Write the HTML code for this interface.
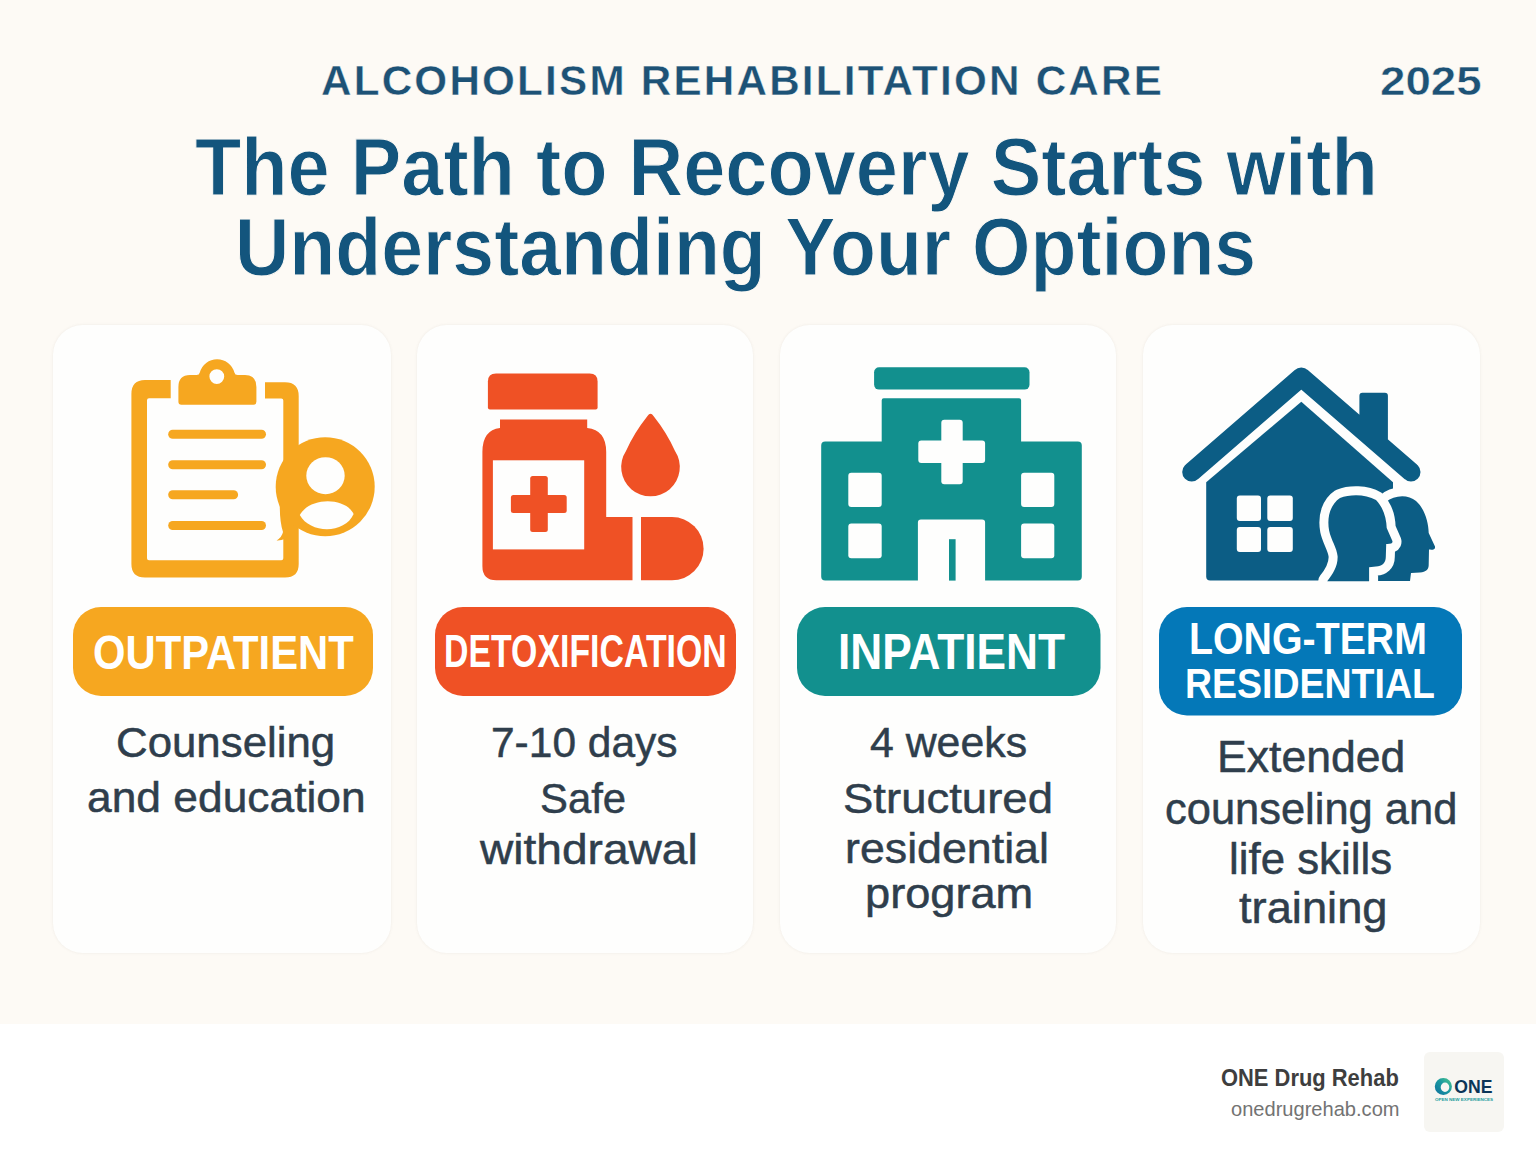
<!DOCTYPE html>
<html>
<head>
<meta charset="utf-8">
<title>Alcoholism Rehabilitation Care</title>
<style>
html,body{margin:0;padding:0;}
body{width:1536px;height:1154px;position:relative;overflow:hidden;background:#fdfaf5;font-family:"Liberation Sans",sans-serif;}
.card{position:absolute;top:325px;height:628px;background:#fefefd;border-radius:30px;box-shadow:0 0 3px rgba(110,100,90,0.10);}
.foot{position:absolute;left:0;top:1024px;width:1536px;height:130px;background:#ffffff;}
.logo{position:absolute;left:1424px;top:1052px;width:80px;height:80px;background:#f7f6f2;border-radius:6px;}
svg.ic{position:absolute;left:0;top:0;}
</style>
</head>
<body>
<div class="card" style="left:53px;width:338px"></div>
<div class="card" style="left:417px;width:336px"></div>
<div class="card" style="left:780px;width:336px"></div>
<div class="card" style="left:1143px;width:337px"></div>
<div class="foot"></div>
<div class="logo"></div>
<svg class="ic" width="1536" height="1154" viewBox="0 0 1536 1154">
<!-- pills -->
<rect x="73" y="607" width="300" height="89" rx="28" fill="#f6a720"/>
<rect x="435" y="607" width="301" height="89" rx="28" fill="#ef5125"/>
<rect x="797" y="607" width="303.5" height="89" rx="28" fill="#12908e"/>
<rect x="1159" y="607" width="303" height="108.5" rx="28" fill="#0478b8"/>

<!-- icon 1: clipboard -->
<g fill="#f6a720">
  <path fill-rule="evenodd" d="M145,380 L170.7,380 L170.7,398.3 L149,398.3 Q147,398.3 147,400.3 L147,558.2 Q147,560.2 149,560.2 L281.3,560.2 Q283.3,560.2 283.3,558.2 L283.3,400.6 Q283.3,398.6 281.3,398.6 L265,398.6 L265,382.2 L285,382.2 Q298.7,382.2 298.7,396 L298.7,564 Q298.7,577.5 285,577.5 L145,577.5 Q131.4,577.5 131.4,564 L131.4,394 Q131.4,380 145,380 Z"/>
  <!-- clip -->
  <path fill-rule="evenodd" d="M190,375 L196.5,375 Q199.3,375 199.8,372.5 A17.9,17.9 0 0 1 234.4,372.5 Q234.9,375 237.7,375 L245,375 Q256.4,375 256.4,387 L256.4,401.7 Q256.4,404.7 253.4,404.7 L181.4,404.7 Q178.4,404.7 178.4,401.7 L178.4,387 Q178.4,375 190,375 Z M216.8,369.2 A7.4,7.4 0 1 0 216.8,384 A7.4,7.4 0 1 0 216.8,369.2 Z"/>
  <!-- lines -->
  <g stroke="#f6a720" stroke-width="9" stroke-linecap="round">
    <line x1="172.7" y1="434.3" x2="261.5" y2="434.3"/>
    <line x1="172.7" y1="464.7" x2="261.5" y2="464.7"/>
    <line x1="172.7" y1="494.7" x2="233.6" y2="494.7"/>
    <line x1="172.7" y1="525.5" x2="261.5" y2="525.5"/>
  </g>
  <!-- badge -->
  <circle cx="325.2" cy="486.8" r="49.5"/>
  <path d="M280,498 Q279,520 283,532 Q282,537 276.6,540.5 Q285,541 291,534 L291,498 Z"/>
</g>
<g fill="#fefefd">
  <ellipse cx="325.5" cy="475.7" rx="19.2" ry="18.5"/>
  <path d="M299.8,515 C310,497 345,497 353.6,514 C345,534 310,534 299.8,515 Z"/>
</g>

<!-- icon 2: medicine -->
<g fill="#ef5125">
  <path d="M496,373.6 L589.6,373.6 Q597.6,373.6 597.6,381.6 L597.6,407.4 Q597.6,409.4 595.6,409.4 L489.9,409.4 Q487.9,409.4 487.9,407.4 L487.9,381.6 Q487.9,373.6 496,373.6 Z"/>
  <path d="M500,419.4 L587.2,419.4 L587.2,428 Q606.2,430 606.2,452 L606.2,517.1 L632.5,517.1 L632.5,580.3 L496.4,580.3 Q482.4,580.3 482.4,566.3 L482.4,452 Q482.4,430 500,428 Z"/>
  <path d="M641,517.1 L672,517.1 A31.6,31.6 0 0 1 672,580.3 L641,580.3 Z"/>
  <path d="M650.5,413.8 Q652,413.8 653.5,416 Q667,433 675,451 A29.3,29.3 0 1 1 626,451 Q634,433 647.5,416 Q649,413.8 650.5,413.8 Z"/>
</g>
<rect x="492.9" y="460.3" width="91.3" height="89.1" fill="#fefefd"/>
<g fill="#ef5125">
  <rect x="530.2" y="476" width="17.6" height="55.9" rx="2.5"/>
  <rect x="510.9" y="495" width="55.8" height="18.1" rx="2.5"/>
</g>

<!-- icon 3: hospital -->
<g fill="#12908e">
  <rect x="874.1" y="367.2" width="155.4" height="22.4" rx="5"/>
  <path d="M883.7,398.2 L1019.1,398.2 Q1021.1,398.2 1021.1,400.2 L1021.1,441.5 L1077.8,441.5 Q1081.8,441.5 1081.8,445.5 L1081.8,576.6 Q1081.8,580.6 1077.8,580.6 L985.1,580.6 L985.1,522.5 Q985.1,519.5 982.1,519.5 L920.9,519.5 Q917.9,519.5 917.9,522.5 L917.9,580.6 L825.2,580.6 Q821.2,580.6 821.2,576.6 L821.2,445.5 Q821.2,441.5 825.2,441.5 L881.7,441.5 L881.7,400.2 Q881.7,398.2 883.7,398.2 Z"/>
  <rect x="949" y="539.2" width="6.6" height="41.4"/>
</g>
<g fill="#fefefd">
  <rect x="941.3" y="419.7" width="21.4" height="64.6" rx="3"/>
  <rect x="918.3" y="440.5" width="66.8" height="22.4" rx="3"/>
  <rect x="848.3" y="472.7" width="33.4" height="34.2" rx="3"/>
  <rect x="1021.1" y="472.7" width="33.2" height="34.2" rx="3"/>
  <rect x="848.3" y="523.6" width="33.4" height="34.6" rx="3"/>
  <rect x="1021.1" y="523.6" width="33.2" height="34.6" rx="3"/>
</g>

<!-- icon 4: house -->
<g fill="#0c5d85">
  <path fill-rule="nonzero" d="M1359.4,395.7 Q1359.4,392.7 1362.4,392.7 L1384.9,392.7 Q1387.9,392.7 1387.9,395.7 L1387.9,452 L1359.4,427.3 Z M1185.48,464.82 L1295.08,369.82 L1307.52,384.18 L1197.92,479.18 Z M1307.52,369.82 L1417.22,464.82 L1404.78,479.18 L1295.08,384.18 Z M1182.20,472.00 A9.5,9.5 0 1 1 1201.20,472.00 A9.5,9.5 0 1 1 1182.20,472.00 Z M1291.80,377.00 A9.5,9.5 0 1 1 1310.80,377.00 A9.5,9.5 0 1 1 1291.80,377.00 Z M1401.50,472.00 A9.5,9.5 0 1 1 1420.50,472.00 A9.5,9.5 0 1 1 1401.50,472.00 Z"/>
  <path d="M1301.3,401.8 L1393,482.3 L1393,580.6 L1210.2,580.6 Q1206.2,580.6 1206.2,576.6 L1206.2,482.3 Z"/>
</g>
<g fill="#fefefd">
  <rect x="1236.8" y="495.5" width="24.2" height="25.5" rx="3"/>
  <rect x="1267.3" y="495.5" width="25.5" height="25.5" rx="3"/>
  <rect x="1236.8" y="527.1" width="24.2" height="25" rx="3"/>
  <rect x="1267.3" y="527.1" width="25.5" height="25" rx="3"/>
</g>
<!-- back head -->
<path fill="#0c5d85" stroke="#fefefd" stroke-width="18" stroke-linejoin="round" paint-order="stroke" d="M1372,581 L1372,560 C1372,540 1376,512 1386,502 C1394,495 1408,494 1416,501 C1424,508 1428.5,521 1428.7,533 L1435,546.5 C1435.5,549.5 1433,550 1429,549.6 L1428.7,565 C1428.7,569.5 1426,572 1420,572.5 L1411,573 L1410,581 Z"/>
<!-- front head with white outline -->
<path fill="#0c5d85" stroke="#fefefd" stroke-width="18" stroke-linejoin="round" paint-order="stroke" d="M1327.2,581.2 C1333,574 1338,566 1337.6,556.2 C1337,548 1331,540 1329.1,530.5 C1326.5,516 1331,504 1340,498 C1350,494 1366,494 1376,500 C1383,507 1386.5,518 1386.7,528 L1392.4,541 C1393,543.5 1391,544 1386.2,543.9 L1385.8,557 C1385.8,563 1382,566.3 1376,566.6 L1369.1,567.2 L1369.1,581.2 Z"/>

<!-- logo -->
<defs>
  <linearGradient id="lg1" x1="0" y1="1" x2="1" y2="0">
    <stop offset="0" stop-color="#0f6f9e"/>
    <stop offset="0.55" stop-color="#1a9aa0"/>
    <stop offset="1" stop-color="#52c98a"/>
  </linearGradient>
</defs>
<path fill="url(#lg1)" fill-rule="evenodd" d="M1443.35,1077.9 A8.55,8.55 0 1 1 1443.35,1095 A8.55,8.55 0 1 1 1443.35,1077.9 Z M1445,1082.6 A4.3,4.7 0 1 0 1445,1092 A4.3,4.7 0 1 0 1445,1082.6 Z"/>
<text x="1454.3" y="1093" font-family="Liberation Sans" font-weight="700" font-size="19.2" fill="#0b3558" textLength="38.2" lengthAdjust="spacingAndGlyphs">ONE</text>
<text x="1435" y="1101" font-family="Liberation Sans" font-weight="700" font-size="3.9" fill="#1e9d9e" textLength="58" lengthAdjust="spacingAndGlyphs">OPEN NEW EXPERIENCES</text>
</svg>

<div style='font-family:"Liberation Sans", sans-serif;font-size:42px;font-weight:700;letter-spacing:2.2px;line-height:1;white-space:nowrap;-webkit-text-stroke:0.4px #fdfaf5;position:absolute;left:320.99px;top:60.00px;color:#1d5276;transform-origin:0 0;transform:scale(1.0048,1.0000);'>ALCOHOLISM REHABILITATION CARE</div>
<div style='font-family:"Liberation Sans", sans-serif;font-size:42px;font-weight:700;letter-spacing:0px;line-height:1;white-space:nowrap;-webkit-text-stroke:0.5px #fdfaf5;position:absolute;left:1379.82px;top:60.36px;color:#1d5276;transform-origin:0 0;transform:scale(1.0889,0.9897);'>2025</div>
<div style='font-family:"Liberation Sans", sans-serif;font-size:79px;font-weight:700;letter-spacing:0px;line-height:1;white-space:nowrap;-webkit-text-stroke:1.0px #fdfaf5;position:absolute;left:194.64px;top:126.28px;color:#13557d;transform-origin:0 0;transform:scale(0.9589,1.0321);'>The Path to Recovery Starts with</div>
<div style='font-family:"Liberation Sans", sans-serif;font-size:79px;font-weight:700;letter-spacing:0px;line-height:1;white-space:nowrap;-webkit-text-stroke:1.0px #fdfaf5;position:absolute;left:235.04px;top:206.03px;color:#13557d;transform-origin:0 0;transform:scale(0.9523,1.0283);'>Understanding Your Options</div>
<div style='font-family:"Liberation Sans", sans-serif;font-size:48px;font-weight:700;letter-spacing:0px;line-height:1;white-space:nowrap;position:absolute;left:92.66px;top:628.94px;color:#ffffff;transform-origin:0 0;transform:scale(0.8704,1.0091);'>OUTPATIENT</div>
<div style='font-family:"Liberation Sans", sans-serif;font-size:45px;font-weight:700;letter-spacing:0px;line-height:1;white-space:nowrap;position:absolute;left:444.44px;top:628.75px;color:#ffffff;transform-origin:0 0;transform:scale(0.7524,1.0065);'>DETOXIFICATION</div>
<div style='font-family:"Liberation Sans", sans-serif;font-size:50px;font-weight:700;letter-spacing:0px;line-height:1;white-space:nowrap;position:absolute;left:837.54px;top:627.10px;color:#ffffff;transform-origin:0 0;transform:scale(0.8850,1.0000);'>INPATIENT</div>
<div style='font-family:"Liberation Sans", sans-serif;font-size:43px;font-weight:700;letter-spacing:0px;line-height:1;white-space:nowrap;position:absolute;left:1188.96px;top:617.36px;color:#ffffff;transform-origin:0 0;transform:scale(0.9141,1.0207);'>LONG-TERM</div>
<div style='font-family:"Liberation Sans", sans-serif;font-size:42px;font-weight:700;letter-spacing:0px;line-height:1;white-space:nowrap;position:absolute;left:1185.12px;top:663.30px;color:#ffffff;transform-origin:0 0;transform:scale(0.8924,1.0000);'>RESIDENTIAL</div>
<div style='font-family:"Liberation Sans", sans-serif;font-size:42.5px;font-weight:400;letter-spacing:0px;line-height:1;white-space:nowrap;-webkit-text-stroke:0.5px #2f3e4c;position:absolute;left:116.24px;top:721.64px;color:#2f3e4c;transform-origin:0 0;transform:scale(1.0308,1.0103);'>Counseling</div>
<div style='font-family:"Liberation Sans", sans-serif;font-size:42.5px;font-weight:400;letter-spacing:0px;line-height:1;white-space:nowrap;-webkit-text-stroke:0.5px #2f3e4c;position:absolute;left:87.11px;top:776.74px;color:#2f3e4c;transform-origin:0 0;transform:scale(1.0434,1.0103);'>and education</div>
<div style='font-family:"Liberation Sans", sans-serif;font-size:42.5px;font-weight:400;letter-spacing:0px;line-height:1;white-space:nowrap;-webkit-text-stroke:0.5px #2f3e4c;position:absolute;left:491.00px;top:721.18px;color:#2f3e4c;transform-origin:0 0;transform:scale(0.9995,1.0207);'>7-10 days</div>
<div style='font-family:"Liberation Sans", sans-serif;font-size:42.5px;font-weight:400;letter-spacing:0px;line-height:1;white-space:nowrap;-webkit-text-stroke:0.5px #2f3e4c;position:absolute;left:540.33px;top:776.68px;color:#2f3e4c;transform-origin:0 0;transform:scale(0.9845,1.0207);'>Safe</div>
<div style='font-family:"Liberation Sans", sans-serif;font-size:42.5px;font-weight:400;letter-spacing:0px;line-height:1;white-space:nowrap;-webkit-text-stroke:0.5px #2f3e4c;position:absolute;left:479.50px;top:828.08px;color:#2f3e4c;transform-origin:0 0;transform:scale(1.0843,1.0207);'>withdrawal</div>
<div style='font-family:"Liberation Sans", sans-serif;font-size:42.5px;font-weight:400;letter-spacing:0px;line-height:1;white-space:nowrap;-webkit-text-stroke:0.5px #2f3e4c;position:absolute;left:869.69px;top:720.98px;color:#2f3e4c;transform-origin:0 0;transform:scale(1.0072,1.0207);'>4 weeks</div>
<div style='font-family:"Liberation Sans", sans-serif;font-size:42.5px;font-weight:400;letter-spacing:0px;line-height:1;white-space:nowrap;-webkit-text-stroke:0.5px #2f3e4c;position:absolute;left:843.36px;top:777.18px;color:#2f3e4c;transform-origin:0 0;transform:scale(1.0708,1.0207);'>Structured</div>
<div style='font-family:"Liberation Sans", sans-serif;font-size:42.5px;font-weight:400;letter-spacing:0px;line-height:1;white-space:nowrap;-webkit-text-stroke:0.5px #2f3e4c;position:absolute;left:844.74px;top:827.18px;color:#2f3e4c;transform-origin:0 0;transform:scale(1.0527,1.0207);'>residential</div>
<div style='font-family:"Liberation Sans", sans-serif;font-size:42.5px;font-weight:400;letter-spacing:0px;line-height:1;white-space:nowrap;-webkit-text-stroke:0.5px #2f3e4c;position:absolute;left:864.77px;top:871.98px;color:#2f3e4c;transform-origin:0 0;transform:scale(1.0630,1.0207);'>program</div>
<div style='font-family:"Liberation Sans", sans-serif;font-size:42.5px;font-weight:400;letter-spacing:0px;line-height:1;white-space:nowrap;-webkit-text-stroke:0.5px #2f3e4c;position:absolute;left:1217.45px;top:736.16px;color:#2f3e4c;transform-origin:0 0;transform:scale(1.0489,1.0241);'>Extended</div>
<div style='font-family:"Liberation Sans", sans-serif;font-size:42.5px;font-weight:400;letter-spacing:0px;line-height:1;white-space:nowrap;-webkit-text-stroke:0.5px #2f3e4c;position:absolute;left:1164.86px;top:787.86px;color:#2f3e4c;transform-origin:0 0;transform:scale(1.0223,1.0241);'>counseling and</div>
<div style='font-family:"Liberation Sans", sans-serif;font-size:42.5px;font-weight:400;letter-spacing:0px;line-height:1;white-space:nowrap;-webkit-text-stroke:0.5px #2f3e4c;position:absolute;left:1228.61px;top:837.96px;color:#2f3e4c;transform-origin:0 0;transform:scale(1.0305,1.0241);'>life skills</div>
<div style='font-family:"Liberation Sans", sans-serif;font-size:42.5px;font-weight:400;letter-spacing:0px;line-height:1;white-space:nowrap;-webkit-text-stroke:0.5px #2f3e4c;position:absolute;left:1239.10px;top:886.76px;color:#2f3e4c;transform-origin:0 0;transform:scale(1.0657,1.0241);'>training</div>
<div style='font-family:"Liberation Sans", sans-serif;font-size:25px;font-weight:700;letter-spacing:0px;line-height:1;white-space:nowrap;position:absolute;left:1221.32px;top:1065.82px;color:#3e3e3e;transform-origin:0 0;transform:scale(0.8766,0.9611);'>ONE Drug Rehab</div>
<div style='font-family:"Liberation Sans", sans-serif;font-size:20.5px;font-weight:400;letter-spacing:0px;line-height:1;white-space:nowrap;position:absolute;left:1230.92px;top:1099.40px;color:#737373;transform-origin:0 0;transform:scale(0.9794,1.0000);'>onedrugrehab.com</div>
</body>
</html>
